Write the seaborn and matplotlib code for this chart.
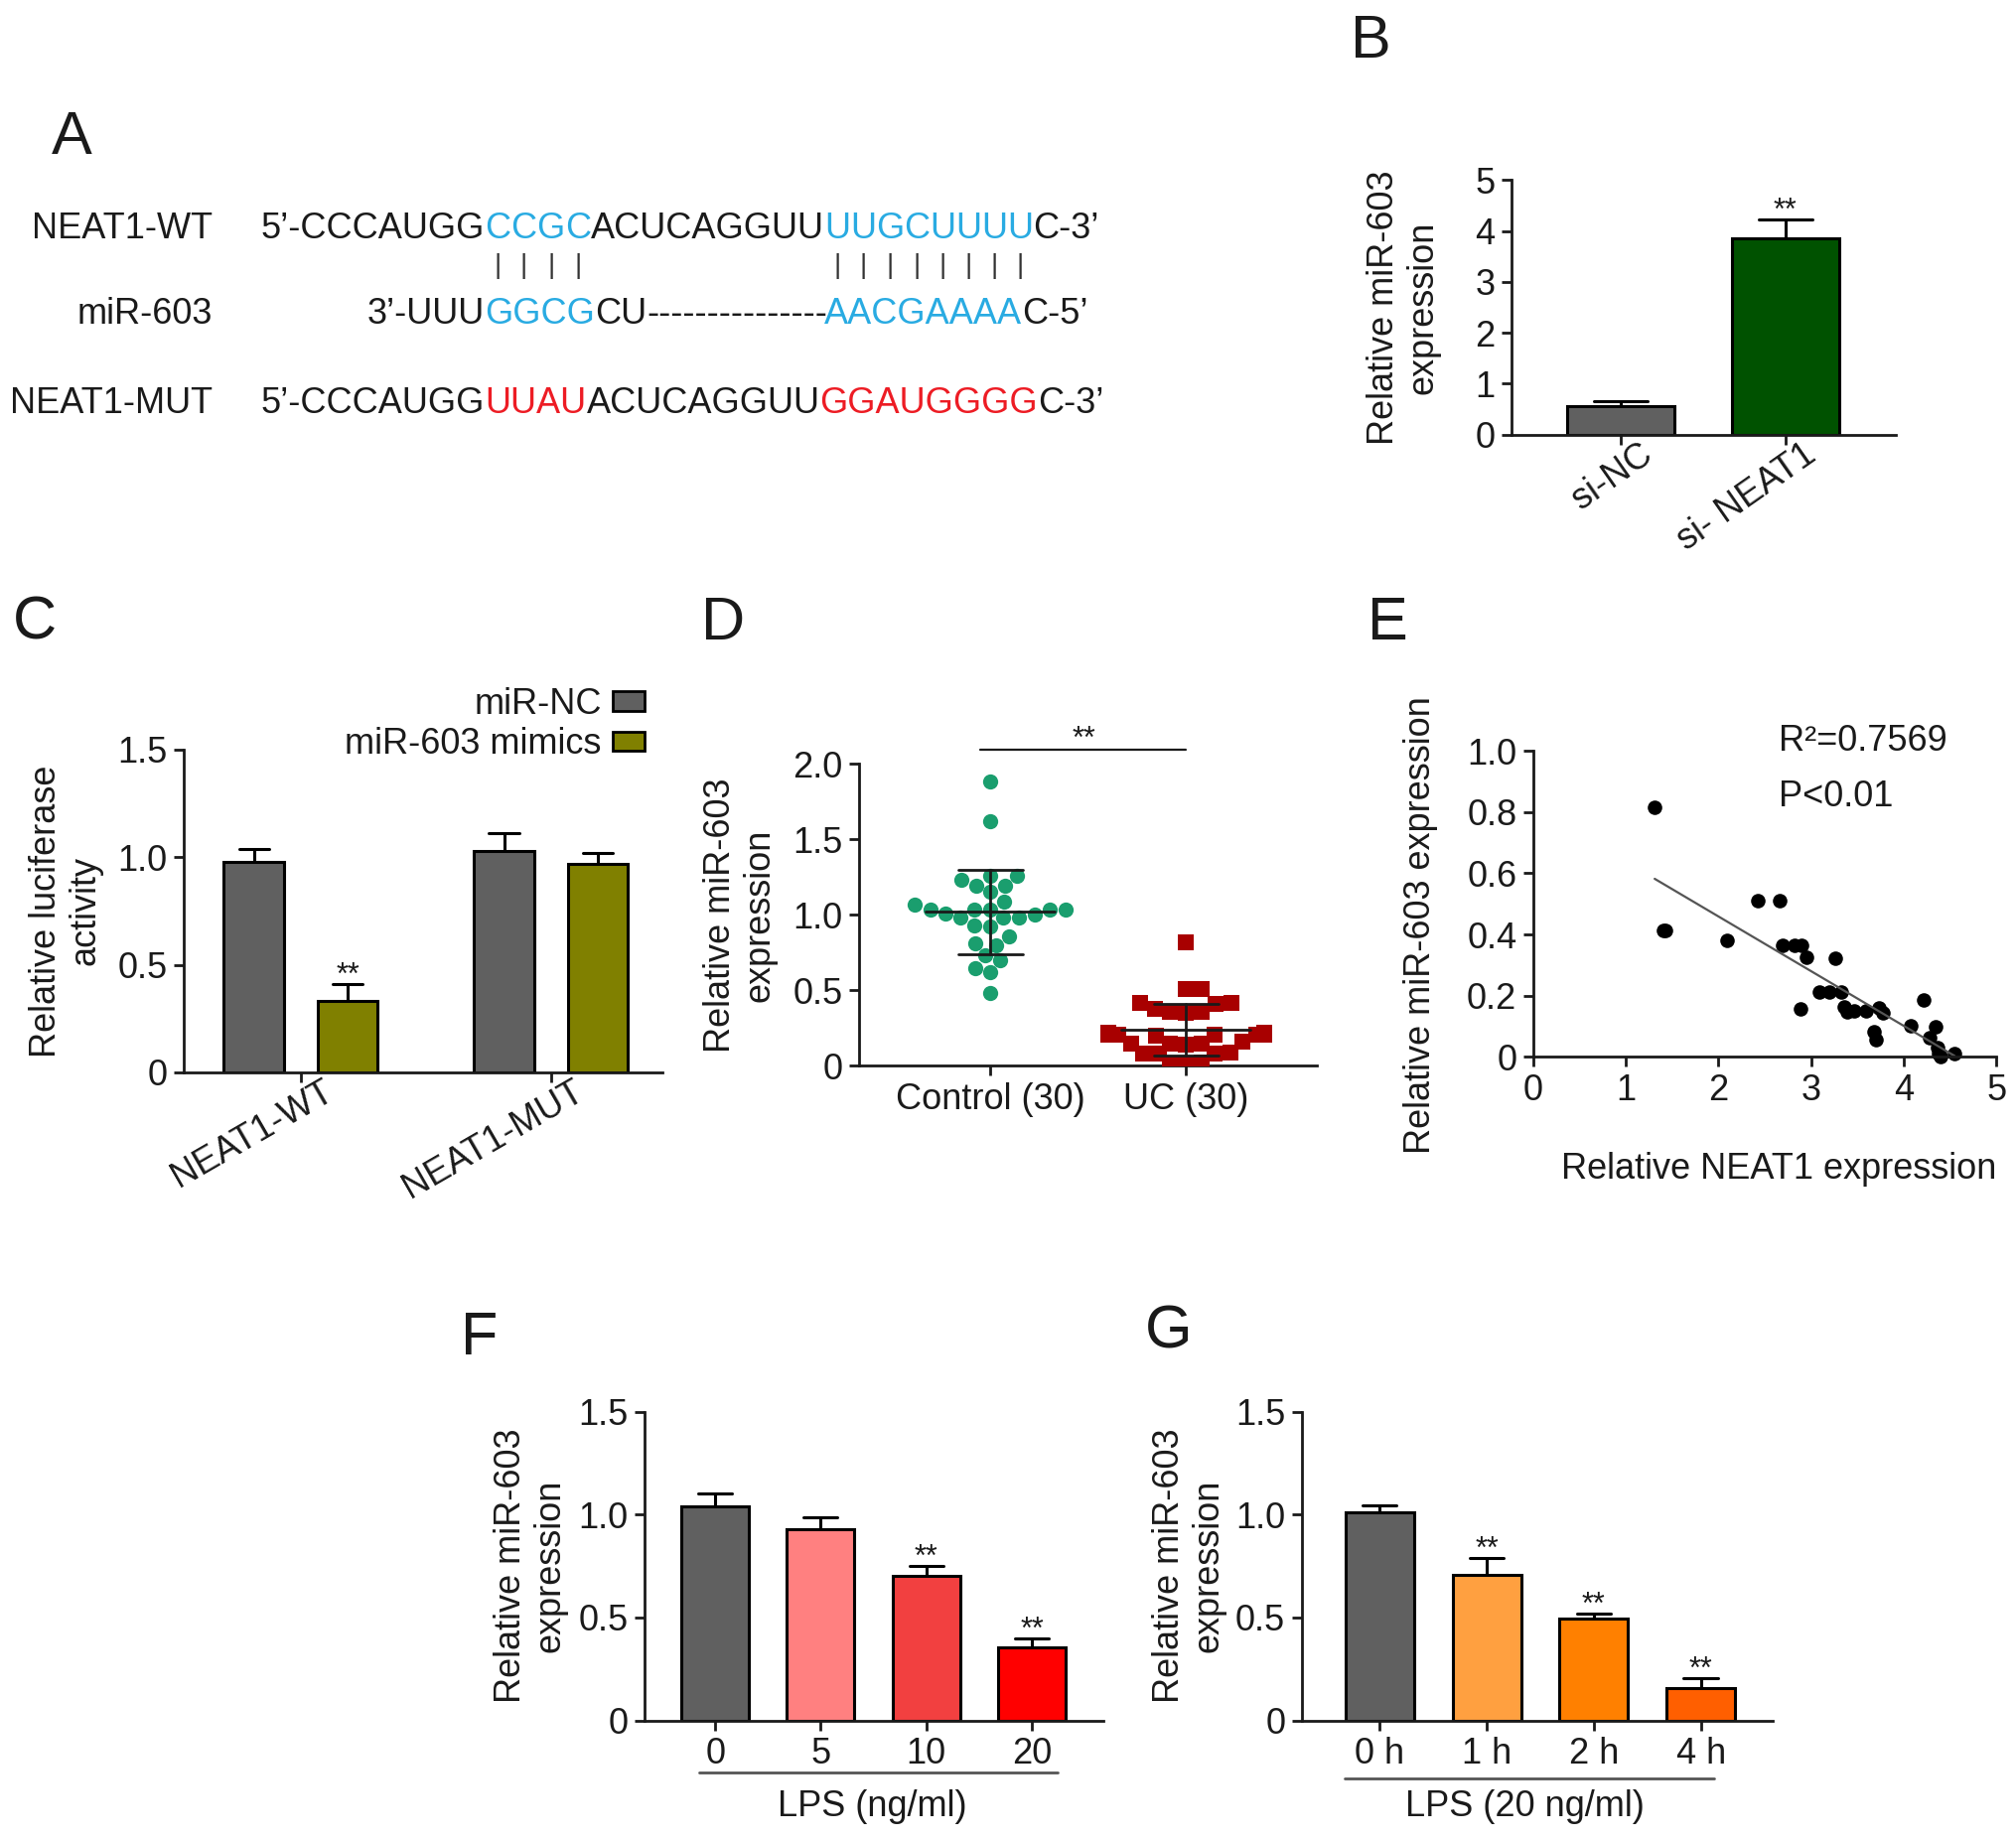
import numpy as np
import pandas as pd
import matplotlib
matplotlib.use("Agg")
import matplotlib.pyplot as plt
import seaborn as sns
from matplotlib.patches import Patch
from matplotlib.transforms import ScaledTranslation, blended_transform_factory

# ---------------- data ----------------
# A: sequences, (text, colour) segments
BLUE, RED, BLK = "#29abe2", "#ed1c24", "#1a1a1a"
row_labels = ["NEAT1-WT", "miR-603", "NEAT1-MUT"]
wt_parts = [("5’-CCCAUGG", BLK), ("CCGC", BLUE), ("ACUCAGGUU", BLK), ("UUGCUUUU", BLUE), ("C-3’", BLK)]
mut_parts = [("5’-CCCAUGG", BLK), ("UUAU", RED), ("ACUCAGGUU", BLK), ("GGAUGGGG", RED), ("C-3’", BLK)]
mir_left, mir_seed1, mir_mid, mir_dash = "3’-UUU", "GGCG", "CU", "-" * 15
mir_seed2, mir_end = "AACGAAAA", "C-5’"

# B
b_groups = ["si-NC", "si- NEAT1"]
b_means = [0.55, 3.85]
b_err = [0.11, 0.38]
b_colors = ["#606060", "#005200"]
b_sig = ["", "**"]

# C
c_constructs = ["NEAT1-WT", "NEAT1-MUT"]
c_treat = ["miR-NC", "miR-603 mimics"]
c_nc = [0.98, 1.03]
c_nc_err = [0.06, 0.08]
c_mim = [0.33, 0.97]
c_mim_err = [0.08, 0.05]
c_colors = ["#606060", "#808000"]

# D
d_order = ["Control (30)", "UC (30)"]
d_control = [1.88, 1.62, 1.23, 1.19, 1.19, 1.26, 1.26, 1.15, 1.09, 1.035,
             0.98, 1.035, 1.035, 1.00, 1.035, 1.065, 1.035, 0.98, 0.98, 0.93,
             0.92, 0.86, 0.80, 0.81, 0.73, 0.70, 0.62, 0.65, 0.48, 1.01]
d_uc = [0.82, 0.51, 0.51, 0.42, 0.41, 0.42, 0.38, 0.36, 0.36, 0.35,
        0.21, 0.21, 0.22, 0.21, 0.20, 0.21, 0.22, 0.21, 0.15, 0.15,
        0.16, 0.15, 0.14, 0.08, 0.08, 0.09, 0.08, 0.01, 0.02, 0.01]
d_mean = [1.02, 0.24]
d_sd = [0.28, 0.17]

# E
e_neat1 = [1.31, 1.40, 1.43, 2.09, 2.42, 2.66, 2.69, 2.82, 2.90, 2.95, 2.88,
           3.26, 3.09, 3.20, 3.32, 3.36, 3.39, 3.46, 3.59, 3.73, 3.78, 3.68,
           3.70, 4.07, 4.21, 4.34, 4.28, 4.36, 4.38, 4.40, 4.55]
e_mir = [0.815, 0.413, 0.413, 0.381, 0.511, 0.511, 0.364, 0.364, 0.364, 0.326, 0.156,
         0.322, 0.212, 0.212, 0.212, 0.163, 0.146, 0.150, 0.150, 0.159, 0.143, 0.083,
         0.057, 0.103, 0.185, 0.099, 0.064, 0.030, 0.011, 0.0, 0.011]

# F
f_doses = ["0", "5", "10", "20"]
f_means = [1.04, 0.93, 0.705, 0.353]
f_err = [0.065, 0.055, 0.046, 0.045]
f_colors = ["#606060", "#ff8080", "#f24040", "#ff0000"]
f_sig = ["", "", "**", "**"]

# G
g_times = ["0 h", "1 h", "2 h", "4 h"]
g_means = [1.01, 0.707, 0.497, 0.156]
g_err = [0.036, 0.084, 0.022, 0.051]
g_colors = ["#606060", "#ffa040", "#ff8000", "#ff5f00"]
g_sig = ["", "**", "**", "**"]

# ---------------- style ----------------
sns.set_theme(style="ticks")
plt.rcParams["font.family"] = ["Liberation Sans", "DejaVu Sans"]
plt.rcParams.update({
    "axes.linewidth": 2, "axes.edgecolor": "#1a1a1a",
    "xtick.major.width": 2, "ytick.major.width": 2,
    "xtick.major.size": 7, "ytick.major.size": 7,
    "xtick.color": "#1a1a1a", "ytick.color": "#1a1a1a",
    "xtick.labelsize": 26, "ytick.labelsize": 26,
    "axes.labelsize": 26, "text.color": "#1a1a1a", "axes.labelcolor": "#1a1a1a",
})
FS = 26

W, H = 1568, 1431  # layout measured on the shrunk reference


def box(l, t, r, b):
    return [l / W, 1 - b / H, (r - l) / W, (b - t) / H]


fig = plt.figure(figsize=(20.31, 18.53), dpi=100)

# ---------------- A: sequence alignment ----------------
axA = fig.add_axes([0, 0, 1, 1])
axA.axis("off")
axA.set_xlim(0, 1)
axA.set_ylim(0, 1)

y_rows = [1 - 185 / H, 1 - 252 / H, 1 - 321 / H]
x_lab, x_seq = 165 / W, 203 / W
for lab, yy in zip(row_labels, y_rows):
    axA.text(x_lab, yy, lab, ha="right", va="baseline", fontsize=FS)


def chain(prev, s, color):
    return axA.annotate(s, xy=(1, 0), xycoords=prev, va="bottom", ha="left",
                        fontsize=FS, color=color)


def seq_row(parts, yy, split):
    t = axA.text(x_seq, yy, parts[0][0], color=parts[0][1], fontsize=FS, va="baseline")
    letters = {}
    for i, (s, c) in enumerate(parts[1:], start=1):
        if i in split:
            letters[i] = []
            for ch in s:
                t = chain(t, ch, c)
                letters[i].append(t)
        else:
            t = chain(t, s, c)
    return letters


wt_letters = seq_row(wt_parts, y_rows[0], split=(1, 3))
seq_row(mut_parts, y_rows[2], split=())

# pairing bars under the WT seed letters
for grp in (wt_letters[1], wt_letters[3]):
    for lt in grp:
        axA.annotate("|", xy=(0.5, 0), xycoords=lt, xytext=(0, -5),
                     textcoords="offset points", ha="center", va="top",
                     fontsize=20, color="#333333")

# miR-603 row aligned to the WT seeds
s1 = axA.annotate(mir_seed1, xy=(0, y_rows[1]), xycoords=(wt_letters[1][0], axA.transAxes),
                  va="baseline", ha="left", fontsize=FS, color=BLUE)
axA.annotate(mir_left, xy=(0, 0), xycoords=s1, va="bottom", ha="right", fontsize=FS, color=BLK)
t = chain(s1, mir_mid, BLK)
t = chain(t, mir_dash, BLK)
s2 = axA.annotate(mir_seed2, xy=(0, y_rows[1]), xycoords=(wt_letters[3][0], axA.transAxes),
                  va="baseline", ha="left", fontsize=FS, color=BLUE)
chain(s2, mir_end, BLK)


def style_axis(ax, top, ticks, labels):
    ax.set_ylim(0, top)
    ax.set_yticks(ticks)
    ax.set_yticklabels(labels)
    sns.despine(ax=ax)
    ax.tick_params(axis="both", direction="out", length=7, width=2, pad=5)


def bar_panel(ax, labels, means, errs, colors, sig, width):
    sns.barplot(x=labels, y=means, hue=labels, order=labels, hue_order=labels,
                palette=colors, width=width, edgecolor="black", linewidth=2.2,
                legend=False, ax=ax, saturation=1)
    for p, m, e, s in zip(ax.patches, means, errs, sig):
        xc = p.get_x() + p.get_width() / 2
        cw = p.get_width() / 4
        ax.plot([xc, xc], [m, m + e], color="black", lw=2.2, zorder=1)
        ax.plot([xc - cw, xc + cw], [m + e, m + e], color="black", lw=2.2, zorder=1)
        if s:
            ax.annotate(s, xy=(xc, m + e), xytext=(0, 0), textcoords="offset points",
                        ha="center", va="baseline", fontsize=22)
    ax.set_xlabel("")


def shift_labels(ax, dx_pt):
    off = ScaledTranslation(dx_pt / 72, 0, fig.dpi_scale_trans)
    for lbl in ax.get_xticklabels():
        lbl.set_transform(lbl.get_transform() + off)


# ---------------- B ----------------
axB = fig.add_axes(box(1175, 140, 1474, 338))
bar_panel(axB, b_groups, b_means, b_err, b_colors, b_sig, 0.655)
axB.set_xlim(-0.667, 1.674)
style_axis(axB, 5, range(6), [str(i) for i in range(6)])
axB.set_ylabel("Relative miR-603\nexpression", linespacing=1.15)
axB.yaxis.set_label_coords(-0.185, 0.5)
plt.setp(axB.get_xticklabels(), rotation=35, ha="right", va="center", rotation_mode="anchor")
shift_labels(axB, 20)

# ---------------- C ----------------
axC = fig.add_axes(box(143, 583, 515, 834))
c_df = pd.DataFrame({
    "construct": c_constructs * 2,
    "treat": [c_treat[0]] * 2 + [c_treat[1]] * 2,
    "value": c_nc + c_mim,
})
sns.barplot(data=c_df, x="construct", y="value", hue="treat", order=c_constructs,
            hue_order=c_treat, palette=c_colors, width=0.75, edgecolor="black",
            linewidth=2.2, saturation=1, ax=axC)
axC.get_legend().remove()
c_err_all = c_nc_err + c_mim_err
c_sig = ["", "", "**", ""]
for p, m, e, s in zip(axC.patches, c_nc + c_mim, c_err_all, c_sig):
    xc = p.get_x() + p.get_width() / 2
    p.set_width(0.24)
    p.set_x(xc - 0.12)
    axC.plot([xc, xc], [m, m + e], color="black", lw=2.2, zorder=1)
    axC.plot([xc - 0.06, xc + 0.06], [m + e, m + e], color="black", lw=2.2, zorder=1)
    if s:
        axC.annotate(s, xy=(xc, m + e), xytext=(0, 0), textcoords="offset points",
                     ha="center", va="baseline", fontsize=22)
axC.set_xlim(-0.467, 1.446)
style_axis(axC, 1.5, [0, 0.5, 1.0, 1.5], ["0", "0.5", "1.0", "1.5"])
axC.set_xlabel("")
axC.set_ylabel("Relative luciferase\nactivity", linespacing=1.15)
axC.yaxis.set_label_coords(-0.17, 0.5)
plt.setp(axC.get_xticklabels(), rotation=30, ha="right", va="center", rotation_mode="anchor")
shift_labels(axC, 22)
handles = [Patch(facecolor=c, edgecolor="black", linewidth=2) for c in c_colors]
axC.legend(handles, c_treat, loc="upper right", bbox_to_anchor=(1.0, 1.25),
           frameon=False, markerfirst=False, fontsize=FS, handlelength=0.9,
           handleheight=0.45, handletextpad=0.3, labelspacing=0.15, borderpad=0)

# ---------------- D ----------------
axD = fig.add_axes(box(668, 594, 1024, 829))
sns.swarmplot(x=[d_order[0]] * len(d_control), y=d_control, order=d_order, color="#1a9e6e",
              marker="o", size=11, linewidth=0, ax=axD, warn_thresh=1)
sns.swarmplot(x=[d_order[1]] * len(d_uc), y=d_uc, order=d_order, color="#a80000",
              marker="s", size=11, linewidth=0, ax=axD, warn_thresh=1)
for i, (m, sd) in enumerate(zip(d_mean, d_sd)):
    axD.plot([i - 0.33, i + 0.33], [m, m], color="#1a1a1a", lw=2, zorder=5)
    axD.plot([i, i], [m - sd, m + sd], color="#1a1a1a", lw=2, zorder=5)
    for yv in (m - sd, m + sd):
        axD.plot([i - 0.165, i + 0.165], [yv, yv], color="#1a1a1a", lw=2, zorder=5)
axD.set_xlim(-0.67, 1.67)
style_axis(axD, 2.0, [0, 0.5, 1.0, 1.5, 2.0], ["0", "0.5", "1.0", "1.5", "2.0"])
axD.plot([-0.05, 1.0], [2.09, 2.09], color="#1a1a1a", lw=1.6, clip_on=False)
axD.text(0.48, 2.11, "**", ha="center", va="baseline", fontsize=22)
axD.set_ylabel("Relative miR-603\nexpression", linespacing=1.15)
axD.yaxis.set_label_coords(-0.18, 0.5)

# ---------------- E ----------------
axE = fig.add_axes(box(1192, 584, 1552, 822))
sns.regplot(x=e_neat1, y=e_mir, ci=None, ax=axE,
            scatter_kws={"s": 110, "color": "black", "linewidths": 0, "clip_on": False, "alpha": 1},
            line_kws={"color": "#555555", "lw": 1.6})
axE.set_xlim(0, 5)
axE.set_xticks(range(6))
style_axis(axE, 1.0, [0, 0.2, 0.4, 0.6, 0.8, 1.0], ["0", "0.2", "0.4", "0.6", "0.8", "1.0"])
axE.text(2.65, 1.03, "R²=0.7569", ha="left", va="center", fontsize=FS)
axE.text(2.65, 0.85, "P<0.01", ha="left", va="center", fontsize=FS)
axE.set_ylabel("Relative miR-603 expression")
axE.yaxis.set_label_coords(-0.205, 0.43)
axE.set_xlabel("Relative NEAT1 expression")
axE.xaxis.set_label_coords(0.53, -0.31)

# ---------------- F, G ----------------
axF = fig.add_axes(box(501, 1098, 858, 1338))
bar_panel(axF, f_doses, f_means, f_err, f_colors, f_sig, 0.64)
axF.set_xlim(-0.67, 3.68)
style_axis(axF, 1.5, [0, 0.5, 1.0, 1.5], ["0", "0.5", "1.0", "1.5"])
axF.set_ylabel("Relative miR-603\nexpression", linespacing=1.15)
axF.yaxis.set_label_coords(-0.168, 0.5)
trF = blended_transform_factory(axF.transData, axF.transAxes)
axF.plot([-0.15, 3.24], [-0.168, -0.168], color="#555555", lw=2, transform=trF, clip_on=False)
axF.text(1.49, -0.28, "LPS (ng/ml)", ha="center", va="center", fontsize=FS, transform=trF)

axG = fig.add_axes(box(1012, 1098, 1378, 1338))
bar_panel(axG, g_times, g_means, g_err, g_colors, g_sig, 0.64)
axG.set_xlim(-0.727, 3.67)
style_axis(axG, 1.5, [0, 0.5, 1.0, 1.5], ["0", "0.5", "1.0", "1.5"])
axG.set_ylabel("Relative miR-603\nexpression", linespacing=1.15)
axG.yaxis.set_label_coords(-0.161, 0.5)
trG = blended_transform_factory(axG.transData, axG.transAxes)
axG.plot([-0.33, 3.12], [-0.187, -0.187], color="#555555", lw=2, transform=trG, clip_on=False)
axG.text(1.36, -0.28, "LPS (20 ng/ml)", ha="center", va="center", fontsize=FS, transform=trG)

# ---------------- panel letters ----------------
letters = [("A", 40, 120), ("B", 1050, 45), ("C", 10, 497), ("D", 545, 497),
           ("E", 1063, 497), ("F", 358, 1053), ("G", 890, 1048)]
for lt, lx, ly in letters:
    fig.text(lx / W, 1 - ly / H, lt, fontsize=44, va="baseline", ha="left")

fig.savefig("out.png", dpi=100, facecolor="white")
